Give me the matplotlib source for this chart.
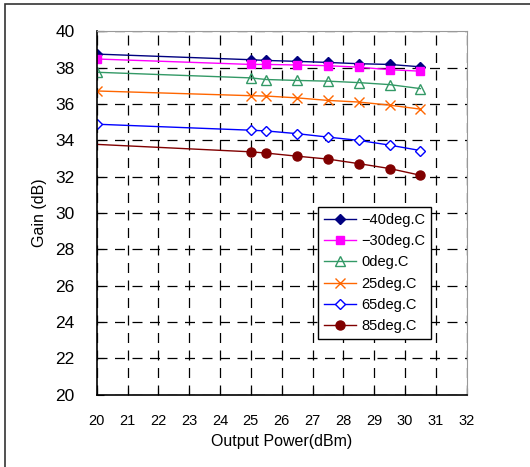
import matplotlib.pyplot as plt
from matplotlib.patches import Rectangle

plt.rcParams['font.family'] = ['Liberation Sans', 'DejaVu Sans']

# Output power points (dBm)
power = [20, 25, 25.5, 26.5, 27.5, 28.5, 29.5, 30.5]

# Gain (dB) per temperature
gain_m40 = [38.75, 38.44, 38.40, 38.35, 38.29, 38.22, 38.18, 38.05]
gain_m30 = [38.48, 38.18, 38.18, 38.15, 38.11, 38.03, 37.89, 37.81]
gain_0 = [37.75, 37.44, 37.35, 37.30, 37.26, 37.18, 37.07, 36.85]
gain_25 = [36.72, 36.46, 36.44, 36.34, 36.20, 36.11, 35.94, 35.72]
gain_65 = [34.89, 34.56, 34.52, 34.37, 34.18, 34.00, 33.74, 33.44]
gain_85 = [33.78, 33.37, 33.30, 33.13, 32.97, 32.72, 32.45, 32.08]

labels = ["\u221240deg.C", "\u221230deg.C", "0deg.C", "25deg.C", "65deg.C", "85deg.C"]

fig = plt.figure(figsize=(5.30, 4.67), dpi=100)
ax = fig.add_axes([0.1825, 0.1548, 0.698, 0.778])

# outer frame (only left and top edges are visible in the crop)
fig.patches.append(Rectangle((4.5 / 530, -0.1), 1.2, 1.1 - 3.5 / 467,
                             transform=fig.transFigure, fill=False,
                             edgecolor='#333333', linewidth=1.2))

ax.plot(power, gain_m40, color='#000080', marker='D', ms=5,
        mfc='#000080', mec='#000080', lw=1, label=labels[0])
ax.plot(power, gain_m30, color='#FF00FF', marker='s', ms=6,
        mfc='#FF00FF', mec='#FF00FF', lw=1, label=labels[1])
ax.plot(power, gain_0, color='#339966', marker='^', ms=7,
        mfc='none', mec='#339966', lw=1, label=labels[2])
ax.plot(power, gain_25, color='#FF6600', marker='x', ms=7, mew=1,
        mec='#FF6600', lw=1, label=labels[3])
ax.plot(power, gain_65, color='#0000FF', marker='D', ms=5,
        mfc='white', mec='#0000FF', lw=1, label=labels[4])
ax.plot(power, gain_85, color='#800000', marker='o', ms=6.5,
        mfc='#800000', mec='#800000', lw=1, markevery=range(1, len(power)),
        label=labels[5])

ax.set_xlim(20, 32)
ax.set_ylim(20, 40)
ax.set_xticks(range(20, 33))
ax.set_yticks(range(20, 41, 2))

ax.grid(True, color='black', linestyle=(0, (8, 6)), linewidth=0.9)
ax.set_axisbelow(True)

for s in ['top', 'right']:
    ax.spines[s].set_color('#999999')
for s in ['left', 'bottom']:
    ax.spines[s].set_color('black')
    ax.spines[s].set_linewidth(1.2)

ax.tick_params(axis='x', direction='in', length=5, pad=14, labelsize=10.5)
ax.tick_params(axis='y', direction='in', length=5, pad=16, labelsize=12.5)
ax.tick_params(top=False, right=False)

ax.set_xlabel("Output Power(dBm)", fontsize=11.5, labelpad=4)
ax.set_ylabel("Gain (dB)", fontsize=11.5, labelpad=6)

leg = ax.legend(loc='upper left', bbox_to_anchor=(0.598, 0.5165),
                borderaxespad=0, fancybox=False, framealpha=1,
                edgecolor='black', fontsize=10.5, handlelength=2.2,
                labelspacing=0.5, borderpad=0.4, handletextpad=0.35)
leg.get_frame().set_linewidth(1)

fig.savefig("out.png", dpi=100)
